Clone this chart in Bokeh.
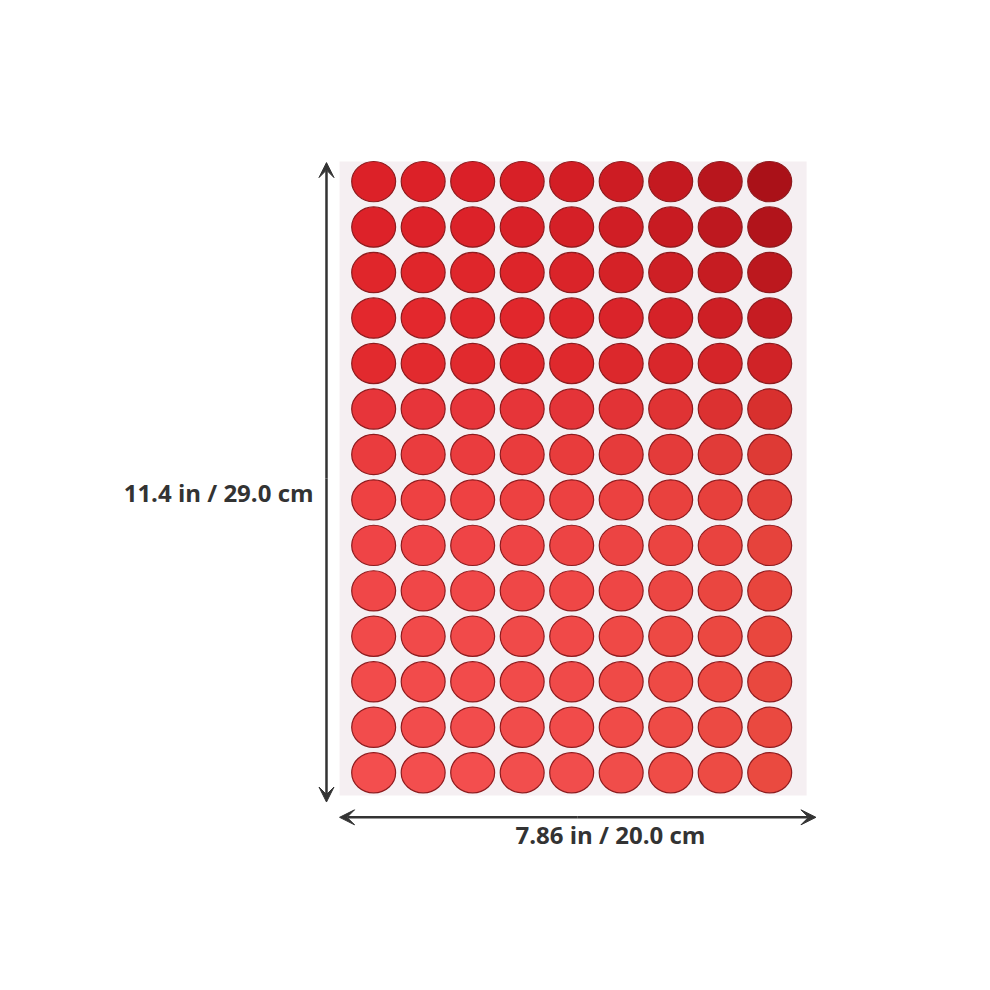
from bokeh.plotting import figure
from bokeh.models import Range1d, Arrow, VeeHead, Label, ColumnDataSource
from bokeh.embed import file_html
from bokeh.resources import INLINE

# sheet size
sheet_w_cm = 20.0
sheet_h_cm = 29.0
width_label = "7.86 in / 20.0 cm"
height_label = "11.4 in / 29.0 cm"

# dot grid: 9 columns x 14 rows
n_cols = 9
n_rows = 14

# dot colour at the left and right end of every row (top to bottom)
row_left = ["#dc2128", "#dd2229", "#e0262b", "#e3282d", "#e22a2e", "#e7353a", "#ea3c3e",
            "#ee4142", "#ef4446", "#f04748", "#f14a4a", "#f24b4b", "#f24c4c", "#f34e4e"]
row_right = ["#aa1118", "#b2141b", "#bc181e", "#c61c22", "#d02327", "#d8302e", "#de3a35",
             "#e4403a", "#e6433c", "#e8453d", "#e9473e", "#e9483f", "#ea4940", "#ea4a40"]


def mix(a, b, t):
    ca = [int(a[i:i + 2], 16) for i in (1, 3, 5)]
    cb = [int(b[i:i + 2], 16) for i in (1, 3, 5)]
    return "#" + "".join(f"{round(x + (y - x) * t):02x}" for x, y in zip(ca, cb))


xs, ys, fills = [], [], []
for r in range(n_rows):
    for c in range(n_cols):
        xs.append(1.46 + 2.12 * c)
        ys.append(0.92 + 2.08 * r)
        fills.append(mix(row_left[r], row_right[r], (c / (n_cols - 1)) ** 2.5))
dots = ColumnDataSource(dict(x=xs, y=ys, fill=fills))

p = figure(width=974, height=974, output_backend="svg", toolbar_location=None,
           x_range=Range1d(-14.52, 27.19), y_range=Range1d(37.19, -7.365),
           min_border=0)
p.axis.visible = False
p.grid.visible = False
p.outline_line_color = None
p.background_fill_color = "white"
p.border_fill_color = "white"

# sheet
p.quad(left=0, right=sheet_w_cm, top=0, bottom=sheet_h_cm,
       fill_color="#f5eff2", line_color=None)

# stickers
p.ellipse(x="x", y="y", width=1.88, height=1.84, source=dots,
          fill_color="fill", line_color="#8e1b1e", line_width=1.2)

# dimension arrows
arrow_col = "#333333"


def head():
    return VeeHead(size=15, fill_color=arrow_col, line_color=arrow_col, line_width=1)


p.add_layout(Arrow(x_start=-0.56, y_start=14.5, x_end=-0.56, y_end=0.05,
                   line_color=arrow_col, line_width=2.5, end=head()))
p.add_layout(Arrow(x_start=-0.56, y_start=14.5, x_end=-0.56, y_end=29.3,
                   line_color=arrow_col, line_width=2.5, end=head()))
p.add_layout(Arrow(x_start=10.2, y_start=30.0, x_end=0.0, y_end=30.0,
                   line_color=arrow_col, line_width=2.5, end=head()))
p.add_layout(Arrow(x_start=10.2, y_start=30.0, x_end=20.4, y_end=30.0,
                   line_color=arrow_col, line_width=2.5, end=head()))

# dimension labels
p.add_layout(Label(x=-5.18, y=15.14, text=height_label, text_align="center",
                   text_baseline="middle", text_font="Open Sans",
                   text_font_style="bold", text_font_size="24px", text_color=arrow_col))
p.add_layout(Label(x=11.6, y=30.78, text=width_label, text_align="center",
                   text_baseline="middle", text_font="Open Sans",
                   text_font_style="bold", text_font_size="24px", text_color=arrow_col))

open("out.html", "w").write(file_html(p, INLINE))
